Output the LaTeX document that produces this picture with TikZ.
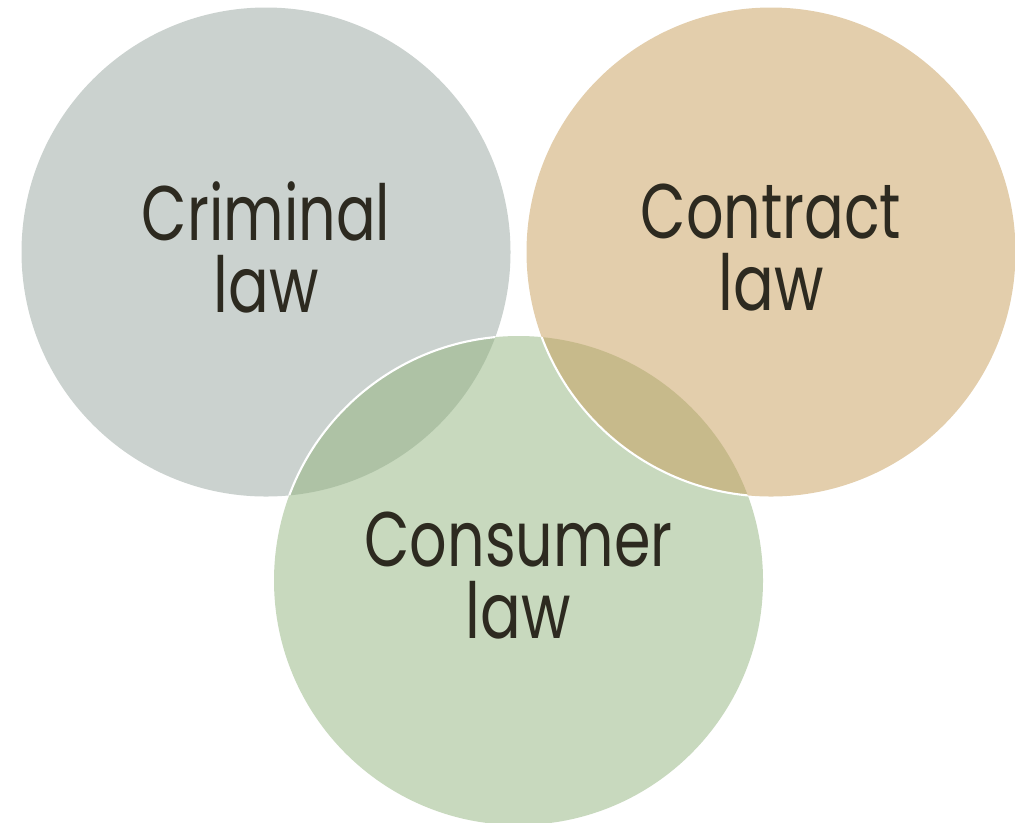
\documentclass[tikz,border=0pt]{standalone}
\usepackage{fontspec}
\setmainfont{Poppins}
\usepackage{graphicx}
\usepackage{tikz}
\definecolor{cus-grey}{RGB}{151, 165, 159}
\definecolor{cus-green}{RGB}{145, 179, 125}
\definecolor{cus-tan}{RGB}{199, 157, 89}
\definecolor{cus-ink}{RGB}{45, 42, 32}
\newcommand{\lawlines}[2]{\scalebox{.76}[1]{#1}\\\scalebox{.78}[1]{#2}\rule[-.2cm]{0pt}{0pt}}
\begin{document}
\begin{tikzpicture}[every node/.style={circle, inner sep=0pt, minimum size=9.78cm, fill opacity=.5, text opacity=1, text=cus-ink, align=center, font=\fontsize{44}{41}\selectfont}]
\useasboundingbox (0,0) rectangle (20.3,-16.44);
\node [fill=cus-grey] (crim) at (5.32,-5.04) {\lawlines{Criminal}{law}};
\node [fill=cus-green] (cons) at (10.37,-11.61) {\lawlines{Consumer}{law}};
\node [fill=cus-tan] (cont) at (15.42,-5.04) {\lawlines{Contract}{law}};
% white rims where the circles cross
\begin{scope}
	\clip (crim.center) circle (4.89);
	\draw [white, line width=1.2pt] (cons.center) circle (4.89);
\end{scope}
\begin{scope}
	\clip (cons.center) circle (4.89);
	\draw [white, line width=1.2pt] (cont.center) circle (4.89);
\end{scope}
\end{tikzpicture}
\end{document}
